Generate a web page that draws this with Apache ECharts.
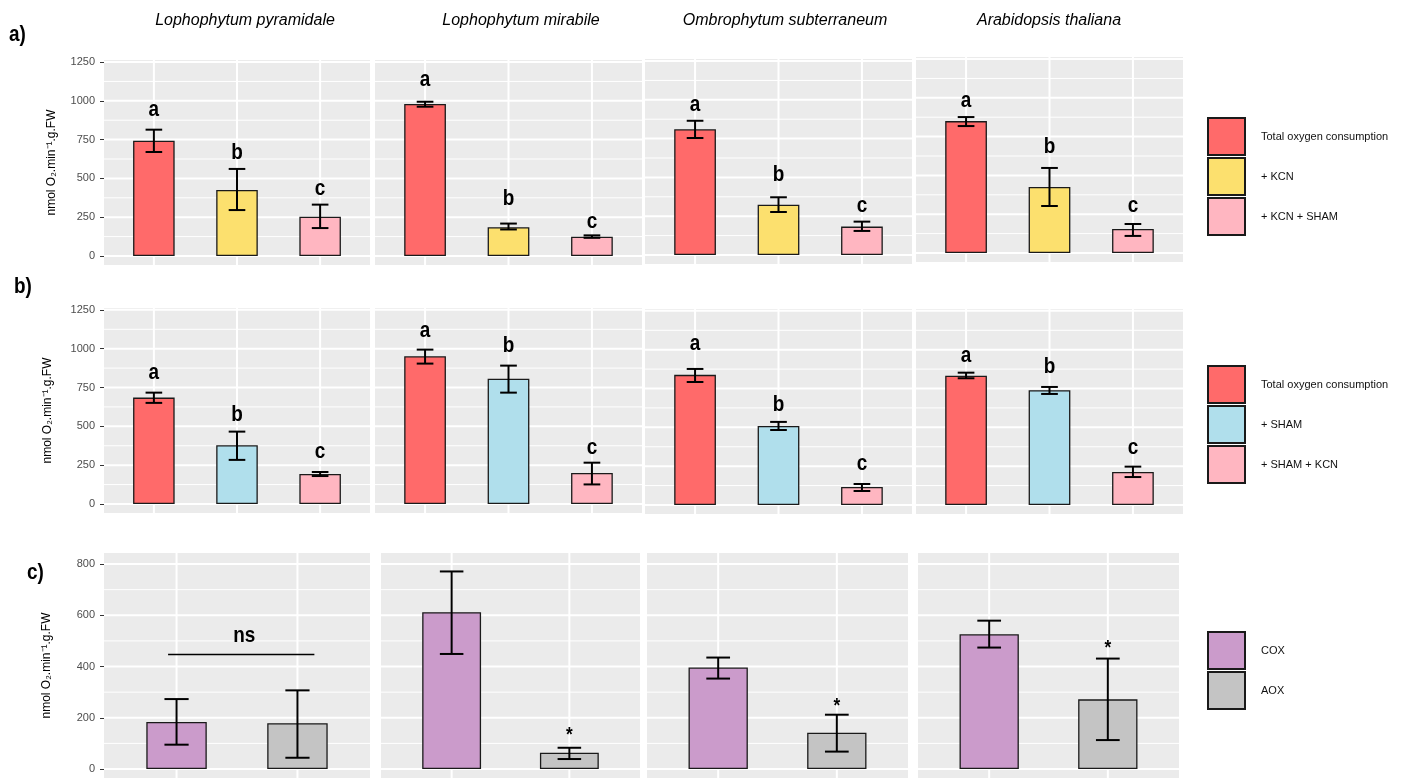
<!DOCTYPE html>
<html>
<head>
<meta charset="UTF-8">
<title></title>
<style>
  html, body { margin: 0; padding: 0; background: #fff; }
  #container { width: 1402px; height: 778px; }
</style>
</head>
<body>
<div id="container"></div>
<script src="https://cdn.jsdelivr.net/npm/echarts@6/dist/echarts.min.js"></script>
<script>
var species = ['Lophophytum pyramidale', 'Lophophytum mirabile', 'Ombrophytum subterraneum', 'Arabidopsis thaliana'];
var rowLabels = ['a)', 'b)', 'c)'];
var yTitle = 'nmol O\u2082.min\u207B\u00B9.g.FW';

// a) KCN first
var aNames = ['Total oxygen consumption', '+ KCN', '+ KCN + SHAM'];
var aMean = [[743, 425, 253], [979, 185, 124], [810, 324, 183], [850, 425, 155]];
var aLow = [[670, 296, 180], [962, 171, 117], [754, 277, 155], [818, 303, 110]];
var aHigh = [[814, 561, 331], [994, 209, 133], [865, 372, 215], [876, 548, 187]];
var aLetters = ['a', 'b', 'c'];
var aLetterY = [[941, 664, 434], [1137, 367, 218], [966, 515, 319], [979, 683, 303]];

// b) SHAM first
var bNames = ['Total oxygen consumption', '+ SHAM', '+ SHAM + KCN'];
var bMean = [[685, 378, 193], [951, 807, 200], [838, 509, 116], [833, 739, 213]];
var bLow = [[651, 284, 180], [904, 717, 126], [792, 483, 90], [816, 715, 180]];
var bHigh = [[717, 466, 206], [994, 891, 266], [876, 535, 135], [852, 760, 247]];
var bLetters = ['a', 'b', 'c'];
var bLetterY = [[846, 575, 333], [1115, 1019, 363], [1037, 644, 264], [958, 888, 365]];

// c) COX / AOX capacity
var cNames = ['COX', 'AOX'];
var cMean = [[184, 179], [612, 64], [396, 142], [526, 272]];
var cLow = [[95, 44], [449, 39], [353, 68], [474, 113]];
var cHigh = [[273, 307], [771, 83], [435, 212], [579, 431]];
var cMarks = [['', ''], ['', '*'], ['', '*'], ['', '*']];
var cMarkY = [[0, 0], [0, 154], [0, 266], [0, 495]];
var cBracket = [[0.93, 2.14, 447, 1.56, 518, 'ns']];

var abTicks = [0, 250, 500, 750, 1000, 1250];
var abMinor = [125, 375, 625, 875, 1125];
var cTicks = [0, 200, 400, 600, 800];
var cMinor = [100, 300, 500, 700];

var NARROW = '"Liberation Sans Narrow", "Arial Narrow", "Liberation Sans", sans-serif';
var SANS = '"Liberation Sans", Arial, sans-serif';
var SQUEEZE = 0.86;   // letters in the figure are set in a condensed bold face

var rows = [
    {
        names: aNames, colors: ['#ff6a6a', '#fce06e', '#ffb6c1'],
        mean: aMean, low: aLow, high: aHigh,
        marks: [aLetters, aLetters, aLetters, aLetters], markY: aLetterY,
        ticks: abTicks, minor: abMinor, range: [-58, 1263], height: 205, nameGap: 46,
        boxes: [[104, 60, 266], [375, 60, 267], [645, 59, 267], [916, 57, 267]],
        legendTop: 117
    },
    {
        names: bNames, colors: ['#ff6a6a', '#b0dfec', '#ffb6c1'],
        mean: bMean, low: bLow, high: bHigh,
        marks: [bLetters, bLetters, bLetters, bLetters], markY: bLetterY,
        ticks: abTicks, minor: abMinor, range: [-58, 1262], height: 205, nameGap: 50,
        boxes: [[104, 308, 266], [375, 308, 267], [645, 309, 267], [916, 309, 267]],
        legendTop: 365
    },
    {
        names: cNames, colors: ['#cb9bcb', '#c4c4c4'],
        mean: cMean, low: cLow, high: cHigh,
        marks: cMarks, markY: cMarkY,
        ticks: cTicks, minor: cMinor, range: [-35, 843], height: 226, nameGap: 51,
        boxes: [[104, 553, 266], [381, 553, 259], [647, 553, 261], [918, 553, 261]],
        legendTop: 631
    }
];

function gridLineRender(params, api) {
    var cs = params.coordSys;
    var v = api.value(0), w = api.value(1), dir = api.value(2);
    var st = { stroke: '#ffffff', lineWidth: w };
    if (dir === 0) {
        var y = api.coord([1, v])[1];
        return { type: 'line', shape: { x1: cs.x, y1: y, x2: cs.x + cs.width, y2: y }, style: st };
    }
    var x = api.coord([v, 0])[0];
    return { type: 'line', shape: { x1: x, y1: cs.y, x2: x, y2: cs.y + cs.height }, style: st };
}

function makeErrRender(labels) {
    return function (params, api) {
        var x = api.value(0), lo = api.value(1), hi = api.value(2), ly = api.value(3);
        var top = api.coord([x, hi]), bot = api.coord([x, lo]);
        var half = api.size([0.2, 0])[0] / 2;
        var st = { stroke: '#000', lineWidth: 2 };
        var children = [
            { type: 'line', shape: { x1: top[0], y1: top[1], x2: bot[0], y2: bot[1] }, style: st },
            { type: 'line', shape: { x1: top[0] - half, y1: top[1], x2: top[0] + half, y2: top[1] }, style: st },
            { type: 'line', shape: { x1: bot[0] - half, y1: bot[1], x2: bot[0] + half, y2: bot[1] }, style: st }
        ];
        var txt = labels[params.dataIndex];
        if (txt) {
            var p = api.coord([x, ly]);
            var star = txt === '*';
            children.push({
                type: 'text', x: p[0], y: p[1] + (star ? 6 : 0), scaleX: SQUEEZE,
                style: {
                    text: txt, fill: '#000', fontFamily: NARROW, fontWeight: 'bold',
                    fontSize: star ? 20 : 22, align: 'center', verticalAlign: 'middle'
                }
            });
        }
        return { type: 'group', children: children };
    };
}

function bracketRender(params, api) {
    var a = api.coord([api.value(0), api.value(2)]);
    var b = api.coord([api.value(1), api.value(2)]);
    var t = api.coord([api.value(3), api.value(4)]);
    return {
        type: 'group', children: [
            { type: 'line', shape: { x1: a[0], y1: a[1], x2: b[0], y2: b[1] }, style: { stroke: '#000', lineWidth: 1.5 } },
            {
                type: 'text', x: t[0], y: t[1], scaleX: SQUEEZE,
                style: { text: cBracket[params.dataIndex][5], fill: '#000', fontFamily: NARROW, fontWeight: 'bold', fontSize: 22, align: 'center', verticalAlign: 'middle' }
            }
        ]
    };
}

var grids = [], xAxes = [], yAxes = [], series = [], legends = [];

rows.forEach(function (row, r) {
    var n = row.names.length;
    for (var c = 0; c < 4; c++) {
        var gi = grids.length;
        var box = row.boxes[c];
        grids.push({
            left: box[0], top: box[1], width: box[2], height: row.height,
            show: true, backgroundColor: '#ebebeb', borderWidth: 0, containLabel: false
        });
        xAxes.push({ type: 'value', gridIndex: gi, min: 0.4, max: n + 0.6, show: false });
        var first = c === 0;
        yAxes.push({
            type: 'value', gridIndex: gi, min: row.range[0], max: row.range[1],
            axisLine: { show: false },
            axisTick: { show: first, length: 4, lineStyle: { color: '#333', width: 1 }, customValues: row.ticks },
            axisLabel: {
                show: first, customValues: row.ticks, color: '#4d4d4d', fontSize: 11, fontFamily: SANS, margin: 9,
                formatter: function (v) { return String(v); }
            },
            splitLine: { show: false },
            name: first ? yTitle : '', nameLocation: 'middle', nameGap: row.nameGap,
            nameTextStyle: { color: '#000', fontSize: 12, fontFamily: SANS }
        });

        var lines = [];
        row.minor.forEach(function (v) { lines.push([v, 1, 0]); });
        row.ticks.forEach(function (v) { lines.push([v, 2, 0]); });
        for (var k = 1; k <= n; k++) lines.push([k, 2, 1]);
        series.push({
            type: 'custom', xAxisIndex: gi, yAxisIndex: gi, z: 1, silent: true,
            data: lines, renderItem: gridLineRender, animation: false
        });

        row.names.forEach(function (name, k) {
            series.push({
                type: 'bar', name: name, xAxisIndex: gi, yAxisIndex: gi, z: 2,
                data: [[k + 1, row.mean[c][k]]],
                barWidth: '50%', barGap: '-100%', animation: false, silent: true,
                itemStyle: { color: row.colors[k], borderColor: '#1a1a1a', borderWidth: 1.3 }
            });
        });

        var err = row.names.map(function (name, k) {
            return [k + 1, row.low[c][k], row.high[c][k], row.markY[c][k]];
        });
        series.push({
            type: 'custom', xAxisIndex: gi, yAxisIndex: gi, z: 3, silent: true,
            data: err, renderItem: makeErrRender(row.marks[c]), animation: false
        });

        if (r === 2 && cBracket[c]) {
            series.push({
                type: 'custom', xAxisIndex: gi, yAxisIndex: gi, z: 3, silent: true,
                data: [cBracket[c].slice(0, 5)], renderItem: bracketRender, animation: false
            });
        }
    }
    legends.push({
        data: row.names, left: 1207, top: row.legendTop, orient: 'vertical', padding: 0,
        itemWidth: 37, itemHeight: 37, itemGap: 1, icon: 'rect', selectedMode: false,
        textStyle: { fontSize: 11, color: '#111', fontFamily: SANS, padding: [0, 0, 0, 11] }
    });
});

var graphics = [];
var titleX = [245, 521, 785, 1049];
species.forEach(function (s, i) {
    graphics.push({
        type: 'text', x: titleX[i], y: 21,
        style: { text: s, fill: '#000', fontFamily: SANS, fontStyle: 'italic', fontSize: 16, align: 'center', verticalAlign: 'middle' }
    });
});
var rowLabelPos = [[9, 35], [14, 287], [27, 573]];
rowLabels.forEach(function (t, i) {
    graphics.push({
        type: 'text', x: rowLabelPos[i][0], y: rowLabelPos[i][1], scaleX: SQUEEZE,
        style: { text: t, fill: '#000', fontFamily: NARROW, fontWeight: 'bold', fontSize: 22, align: 'left', verticalAlign: 'middle' }
    });
});

var chart = echarts.init(document.getElementById('container'));
chart.setOption({
    backgroundColor: '#ffffff',
    animation: false,
    grid: grids,
    xAxis: xAxes,
    yAxis: yAxes,
    legend: legends,
    graphic: graphics,
    series: series
});
</script>
</body>
</html>
